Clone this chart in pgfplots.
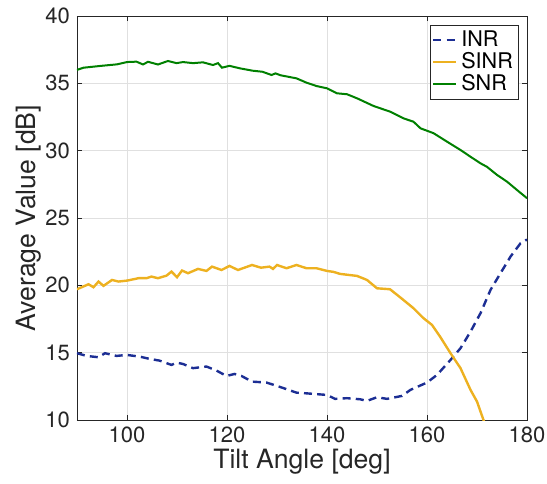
\documentclass[border=0pt]{standalone}
\usepackage{fontspec}
\setmainfont{TeX Gyre Heros}
\usepackage{pgfplots}
\pgfplotsset{compat=1.18}
\usetikzlibrary{calc}
\definecolor{inrblue}{RGB}{28,46,148}
\definecolor{sinrorange}{RGB}{237,177,32}
\definecolor{snrgreen}{RGB}{0,128,0}
\definecolor{axgray}{RGB}{38,38,38}
\begin{document}
\begin{tikzpicture}
\begin{axis}[
  name=ax,
  width=225pt, height=202pt, scale only axis,
  xmin=90, xmax=180, ymin=10, ymax=40,
  xtick={100,120,...,180}, ytick={10,15,...,40},
  grid=major, grid style={black!12, line width=0.4pt},
  axis line style={axgray, line width=0.4pt},
  tick align=inside, major tick length=2.3pt, tick style={axgray, line width=0.4pt},
  /pgf/number format/assume math mode=true,
  tick label style={font=\fontsize{11}{13}\selectfont, text=axgray},
  label style={font=\fontsize{13.3}{15}\selectfont, text=axgray},
  xlabel={Tilt Angle [deg]}, ylabel={Average Value [dB]},
  xlabel style={yshift=4pt}, ylabel style={yshift=-5pt},
  legend style={at={(0.982,0.978)}, anchor=north east, draw=axgray, line width=0.4pt,
    font=\fontsize{10.8}{12}\selectfont, inner sep=0.8pt, row sep=-2.5pt},
  legend cell align=left,
  legend image code/.code={\draw[#1] (0cm,0cm) -- (0.4cm,0cm);},
]
\addplot[inrblue, line width=1.2pt, dash pattern=on 4pt off 2.6pt] coordinates {
(90,14.96) (91.9,14.76) (94.3,14.66) (95.6,14.96) (97.9,14.76) (100,14.83)
(102.5,14.71) (104.5,14.54) (106.5,14.41) (108.9,14.09) (109.9,14.26) (111.2,14.16)
(113.2,13.85) (115.9,13.97) (117.9,13.67) (119.9,13.27) (121.5,13.42) (122.9,13.27)
(125,12.85) (127.9,12.78) (130,12.53) (131.9,12.29) (133.9,12.03) (135.9,11.98)
(140,11.86) (141.6,11.57) (144,11.62) (146.6,11.54) (148,11.42) (150,11.69)
(152,11.57) (155,11.79) (156.7,12.24) (160,12.78) (162,13.35) (164.7,14.46)
(166.7,15.33) (168.7,16.56) (170.7,17.93) (172.7,19.66) (174.7,20.9) (176.7,22.13)
(178.7,23.12) (180,23.4)};
\addlegendentry{INR}
\addplot[sinrorange, line width=1.2pt] coordinates {
(90,19.71) (92.3,20.08) (93.3,19.86) (94.3,20.28) (95.3,19.96) (97,20.4)
(98.3,20.28) (100,20.35) (102.3,20.53) (103.9,20.53) (104.9,20.65) (106.2,20.53)
(107.9,20.72) (108.9,21.02) (110,20.6) (111,21.1) (112.2,20.9) (114.2,21.22)
(115.9,21.07) (117,21.39) (118.9,21.14) (120.5,21.44) (122.2,21.14) (125,21.51)
(126.8,21.31) (128.5,21.39) (129.2,21.22) (130,21.51) (131.9,21.27) (133.9,21.51)
(135.9,21.27) (137.9,21.27) (140,21.07) (141.3,21.0) (142.6,20.85) (146,20.7)
(148,20.4) (150,19.78) (152.6,19.71) (154.6,19.12) (157.3,18.3) (159.3,17.56)
(161,17.06) (162.6,16.2) (164.7,14.96) (166.7,13.85) (168.7,12.24) (170,11.37)
(171.3,10.0) (172,9.3)};
\addlegendentry{SINR}
\addplot[snrgreen, line width=1pt] coordinates {
(90,36.0) (91.3,36.16) (94.6,36.29) (98,36.41) (100,36.58) (101.9,36.61)
(103.2,36.4) (104.2,36.6) (106.2,36.4) (108.2,36.66) (109.9,36.5) (111.2,36.58)
(113.2,36.5) (115.2,36.56) (117.2,36.36) (118.2,36.5) (119,36.16) (120.5,36.3)
(122.5,36.12) (125.1,35.94) (127.1,35.86) (128.9,35.62) (129.7,35.74) (130.7,35.6)
(133.9,35.37) (135.9,35.05) (137.9,34.8) (140,34.63) (142,34.26) (144,34.19)
(146,33.89) (149.3,33.32) (152.6,32.9) (155.3,32.4) (157.3,32.15) (158.7,31.66)
(161.3,31.3) (164,30.67) (166.7,30.05) (168.7,29.55) (170.7,29.06) (172,28.8)
(174,28.2) (176,27.7) (178,27.08) (180,26.47)};
\addlegendentry{SNR}
\end{axis}
\pgfresetboundingbox
\path[use as bounding box] ($(ax.south west)+(-38.5pt,-31.5pt)$) rectangle ($(ax.north east)+(10pt,8pt)$);
\end{tikzpicture}
\end{document}
